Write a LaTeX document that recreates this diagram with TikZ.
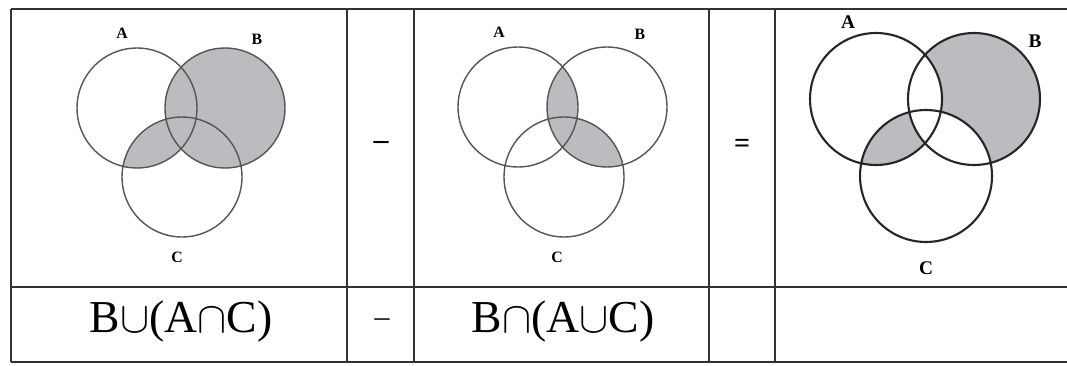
\documentclass[tikz,border=0pt]{standalone}
\usepackage{fontspec}
\setmainfont{Liberation Serif}
\usetikzlibrary{positioning}
\definecolor{venngray}{RGB}{188,188,192}
\definecolor{ringgray}{RGB}{85,85,85}
\tikzstyle{tableline} = [line width=1.1pt, draw=black!80]
\tikzstyle{ring}      = [line width=0.8pt, draw=ringgray]
\tikzstyle{thickring} = [line width=1.2pt, draw=black!85]
\tikzstyle{setlabel}  = [font=\bfseries\fontsize{9}{10}\selectfont, inner sep=0pt]
\tikzstyle{biglabel}  = [font=\bfseries\fontsize{11}{12}\selectfont, inner sep=0pt]
\tikzstyle{formula}   = [font=\fontsize{26}{30}\selectfont, inner sep=0pt, anchor=base]
\tikzstyle{operator}  = [font=\bfseries\fontsize{17}{20}\selectfont, inner sep=0pt]

\begin{document}
\begin{tikzpicture}[x=0.02cm, y=-0.02cm]
\useasboundingbox (0,0) rectangle (1067,365);

\coordinate (A1) at (137,108);
\coordinate (B1) at (225,108);
\coordinate (C1) at (182,177);
\coordinate (A2) at (518,107);
\coordinate (B2) at (607,107);
\coordinate (C2) at (564,177);
\coordinate (A3) at (876,99);
\coordinate (B3) at (974,99);
\coordinate (C3) at (926,176);

% B u (A n C)
\fill[venngray] (B1) circle (1.2cm);
\begin{scope}
\clip (A1) circle (1.2cm);
\fill[venngray] (C1) circle (1.2cm);
\end{scope}
\draw[ring] (A1) circle (1.2cm) (B1) circle (1.2cm) (C1) circle (1.2cm);

% B n (A u C)
\begin{scope}
\clip (B2) circle (1.2cm);
\fill[venngray] (A2) circle (1.2cm) (C2) circle (1.2cm);
\end{scope}
\draw[ring] (A2) circle (1.2cm) (B2) circle (1.2cm) (C2) circle (1.2cm);

% difference
\begin{scope}
\clip (A3) circle (1.32cm);
\fill[venngray] (C3) circle (1.32cm);
\end{scope}
\fill[venngray] (B3) circle (1.32cm);
\begin{scope}
\clip (B3) circle (1.32cm);
\fill[white] (A3) circle (1.32cm) (C3) circle (1.32cm);
\end{scope}
\draw[thickring] (A3) circle (1.32cm) (B3) circle (1.32cm) (C3) circle (1.32cm);

\node[setlabel] (LA1) at (122,33) {A};
\node[setlabel] (LB1) at (257,39) {B};
\node[setlabel] (LC1) at (177,257) {C};
\node[setlabel] (LA2) at (499,32) {A};
\node[setlabel] (LB2) at (640,34) {B};
\node[setlabel] (LC2) at (557,257) {C};
\node[biglabel] (LA3) at (848,22) {A};
\node[biglabel] (LB3) at (1035,41) {B};
\node[biglabel] (LC3) at (926,268) {C};

\node[operator] (minus) at (381,145) {--};
\node[operator, font=\bfseries\fontsize{16}{18}\selectfont] (equals) at (742,146) {=};

\node[formula] (F1) at (181,332) {B$\cup$(A$\cap$C)};
\node[font=\fontsize{17}{20}\selectfont, inner sep=0pt] (minus2) at (382,323) {--};
\node[formula] (F2) at (563,332) {B$\cap$(A$\cup$C)};

\draw[tableline] (11,9) -- (1067,9);
\draw[tableline] (11,287) -- (1067,287);
\draw[tableline] (11,362) -- (1067,362);
\foreach \x in {11,347,414,709,775}
  \draw[tableline] (\x,9) -- (\x,362);

\end{tikzpicture}
\end{document}
